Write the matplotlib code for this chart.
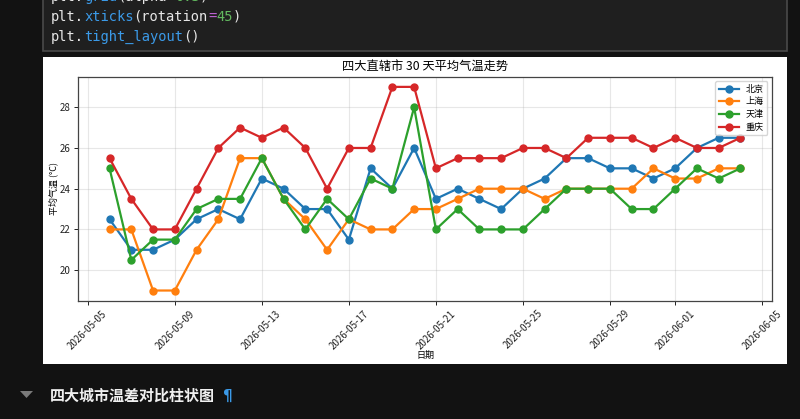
import numpy as np
import pandas as pd
import matplotlib
matplotlib.use("Agg")
import matplotlib.pyplot as plt
import matplotlib.dates as mdates
from matplotlib.patches import Rectangle, Polygon

plt.rcParams['font.family'] = ['Noto Sans CJK SC', 'DejaVu Sans']
plt.rcParams['axes.unicode_minus'] = False

# 数据
dates = pd.date_range('2026-05-06', periods=30, freq='D')
beijing = [22.5, 21, 21, 21.5, 22.5, 23, 22.5, 24.5, 24, 23, 23, 21.5, 25, 24, 26,
           23.5, 24, 23.5, 23, 24, 24.5, 25.5, 25.5, 25, 25, 24.5, 25, 26, 26.5, 26.5]
shanghai = [22, 22, 19, 19, 21, 22.5, 25.5, 25.5, 23.5, 22.5, 21, 22.5, 22, 22, 23,
            23, 23.5, 24, 24, 24, 23.5, 24, 24, 24, 24, 25, 24.5, 24.5, 25, 25]
tianjin = [25, 20.5, 21.5, 21.5, 23, 23.5, 23.5, 25.5, 23.5, 22, 23.5, 22.5, 24.5, 24, 28,
           22, 23, 22, 22, 22, 23, 24, 24, 24, 23, 23, 24, 25, 24.5, 25]
chongqing = [25.5, 23.5, 22, 22, 24, 26, 27, 26.5, 27, 26, 24, 26, 26, 29, 29,
             25, 25.5, 25.5, 25.5, 26, 26, 25.5, 26.5, 26.5, 26.5, 26, 26.5, 26, 26, 26.5]
cities = ['北京', '上海', '天津', '重庆']
series = [beijing, shanghai, tianjin, chongqing]

code_lines = [
    [('plt.', '#e6e6e6'), ('grid', '#3b9ae8'), ('(alpha', '#e6e6e6'), ('=', '#c266d8'), ('0.3', '#62b85f'), (')', '#e6e6e6')],
    [('plt.', '#e6e6e6'), ('xticks', '#3b9ae8'), ('(rotation', '#e6e6e6'), ('=', '#c266d8'), ('45', '#62b85f'), (')', '#e6e6e6')],
    [('plt.', '#e6e6e6'), ('tight_layout', '#3b9ae8'), ('()', '#e6e6e6')],
]
heading = '四大城市温差对比柱状图'

W, H = 800, 419
fig = plt.figure(figsize=(8, 4.19), dpi=100, facecolor='#121212')

def fx(px):
    return px / W

def fy(py):
    return 1 - py / H

# 代码单元
fig.patches.append(Rectangle((fx(43), fy(51)), fx(744), 60 / H, transform=fig.transFigure,
                             facecolor='#1f1f1f', edgecolor='#4a4a4a', lw=1.2, zorder=-10))
cw = 8.26
for row, parts in enumerate(code_lines):
    k = 0
    for txt, col in parts:
        fig.text(fx(51 + k * cw), fy(1 + row * 20), txt, color=col, fontsize=9.9,
                 family='DejaVu Sans Mono', va='baseline', ha='left')
        k += len(txt)

# 输出区域
fig.patches.append(Rectangle((fx(43), fy(364)), fx(744), 307 / H, transform=fig.transFigure,
                             facecolor='white', edgecolor='none', zorder=-10))

ax = fig.add_axes([fx(78), fy(300.7), fx(694), 224 / H])
for name, vals in zip(cities, series):
    ax.plot(dates, vals, marker='o', lw=1.6, markersize=5, label=name)

ax.set_title('四大直辖市 30 天平均气温走势', fontsize=8.8, pad=5)
ax.set_xlabel('日期', fontsize=6.5, labelpad=0)
ax.set_ylabel('平均气温 (°C)', fontsize=6.5, labelpad=1)
ax.legend(loc='upper right', fontsize=6.5, handlelength=2.2, borderpad=0.4, labelspacing=0.4)
ax.grid(alpha=0.3)
ax.xaxis.set_major_locator(mdates.DayLocator(bymonthday=range(1, 32, 4)))
ax.xaxis.set_major_formatter(mdates.DateFormatter('%Y-%m-%d'))
ax.tick_params(labelsize=7, length=3, width=0.7, colors='#222222', pad=2.5)
plt.setp(ax.get_xticklabels(), rotation=45)
for s in ax.spines.values():
    s.set_color('#444444')
    s.set_linewidth(0.9)

# 下一个标题
fig.patches.append(Polygon([[fx(20), fy(391)], [fx(33), fy(391)], [fx(26.5), fy(398)]],
                           closed=True, transform=fig.transFigure, facecolor='#7a7a7a',
                           edgecolor='none'))
fig.text(fx(50), fy(396), heading, color='#f0f0f0', fontsize=10.8, fontweight='bold',
         va='center', ha='left')
fig.text(fx(222), fy(396), '¶', color='#3b9ae8', fontsize=11, fontweight='bold',
         family='DejaVu Sans', va='center', ha='left')

fig.savefig('out.png', dpi=100, facecolor=fig.get_facecolor())
